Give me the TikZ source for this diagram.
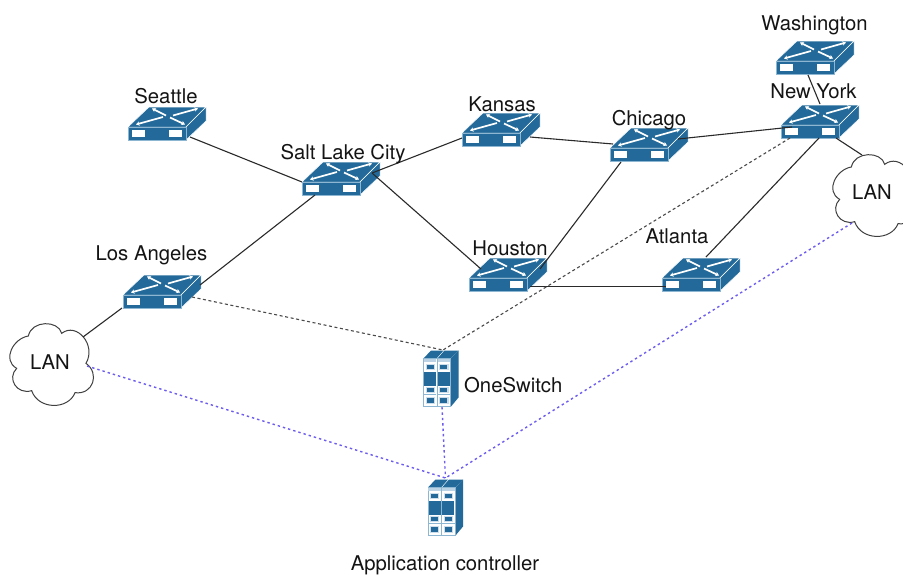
\documentclass[tikz,border=0pt]{standalone}
\usepackage{fontspec}
\setmainfont{TeX Gyre Heros}
\usetikzlibrary{arrows.meta}
\definecolor{iconblue}{HTML}{236A9A}
\definecolor{iconpale}{HTML}{8DB6D2}
\definecolor{linkdark}{HTML}{2A2A2A}
\definecolor{ctrlblue}{HTML}{6C5CF0}
\tikzset{
  x=1pt,y=-1pt,
  every node/.style={font=\fontsize{20.3}{24}\selectfont,text=black!92,inner sep=0pt},
  swbox/.style={minimum width=78pt,minimum height=33pt},
  srvbox/.style={minimum width=35pt,minimum height=56pt},
  cloudbox/.style={minimum width=83pt,minimum height=82pt},
  link/.style={draw=linkdark,line width=1.1pt},
  ctrl/.style={draw=linkdark!85,line width=1.1pt,dash pattern=on 3pt off 2.6pt},
  appl/.style={draw=ctrlblue,line width=1.4pt,dash pattern=on 2.4pt off 3pt},
  pics/switchicon/.style={code={
    \begin{scope}[shift={(-39,-16.5)}]
      \fill[iconblue,draw=white,line width=.5pt,line join=round] (0,20) -- (21,0) -- (78,0) -- (58,20) -- cycle;
      \fill[iconblue,draw=white,line width=.5pt,line join=round] (58,20) -- (78,0) -- (78,14) -- (58,33) -- cycle;
      \fill[iconblue,draw=iconpale,line width=.6pt] (0,20) rectangle (58,33);
      \fill[white] (3.5,23) rectangle (16.5,29.5);
      \fill[white] (40.5,23) rectangle (53.5,29.5);
      \begin{scope}[white,line width=1.7pt,arrows={-{Stealth[length=3.6pt,width=4.4pt]}}]
        \draw (38,8.5) -- (24,1.5);
        \draw (45,8.5) -- (70,1.5);
        \draw (35,10) -- (8,17.5);
        \draw (42,10.5) -- (57,17.5);
      \end{scope}
    \end{scope}
  }},
  pics/servericon/.style={code={
    \begin{scope}[shift={(-17.5,-28)}]
      \fill[iconblue] (0,8) -- (7.5,0) -- (20,0) -- (13,8) -- cycle;
      \fill[iconblue] (14,8) -- (21,0) -- (35,0) -- (27,8) -- cycle;
      \fill[iconblue] (27.5,8) -- (35,0) -- (35,47) -- (27.5,56) -- cycle;
      \foreach \cx in {0,13.7}{
        \begin{scope}[shift={(\cx,8)}]
          \fill[white] (0,0) rectangle (13.3,48);
          \draw[iconpale,line width=.5pt] (0,0) rectangle (13.3,48);
          \fill[iconpale!60] (.4,.4) rectangle (12.9,3);
          \fill[iconpale!45] (2,5) rectangle (11.3,11);
          \fill[iconblue] (3.2,6) rectangle (10.1,10);
          \fill[iconblue] (.6,13.5) rectangle (12.7,27);
          \fill[iconpale!45] (2,28.5) rectangle (11.3,34);
          \fill[iconblue] (3.2,29) rectangle (10.1,33.5);
          \draw[iconpale,line width=.8pt] (.4,36) -- (12.9,36);
          \fill[iconpale!45] (2,38.5) rectangle (11.3,45);
          \fill[iconblue] (3.2,39.5) rectangle (10.1,44);
        \end{scope}
      }
    \end{scope}
  }},
  pics/cloudicon/.style={code={
    \begin{scope}[x=.3333pt,y=-.3333pt,shift={(-150,-132)}]
      \draw[fill=white,draw=black!75,line width=1pt]
        (85,48) .. controls (40,55) and (5,120) .. (50,145)
        .. controls (20,175) and (50,225) .. (95,212)
        .. controls (115,270) and (205,270) .. (225,218)
        .. controls (280,225) and (300,160) .. (258,130)
        .. controls (290,75) and (230,5) .. (185,40)
        .. controls (175,0) and (95,0) .. (85,48) -- cycle;
    \end{scope}
  }},
}
\begin{document}
\begin{tikzpicture}
\useasboundingbox (0,0) rectangle (903,574);
\clip (0,0) rectangle (903,574);
\fill[white] (0,0) rectangle (903,574);
% device nodes
\node[swbox] (seattle) at (167,123.5) {};
\node[swbox] (slc) at (341,178.5) {};
\node[swbox] (kansas) at (501,129.5) {};
\node[swbox] (chicago) at (649,144.5) {};
\node[swbox] (washington) at (815,57.5) {};
\node[swbox] (newyork) at (820,121.5) {};
\node[swbox] (losangeles) at (162,291.5) {};
\node[swbox] (houston) at (508,274.5) {};
\node[swbox] (atlanta) at (701,274.5) {};
\node[srvbox] (oneswitch) at (441,378.5) {};
\node[srvbox] (appctrl) at (445.5,507.5) {};
\node[cloudbox] (lanleft) at (50,364) {};
\node[cloudbox] (lanright) at (873,195) {};
% icons
\foreach \n in {seattle,slc,kansas,chicago,washington,newyork,losangeles,houston,atlanta}{
  \pic at (\n.center) {switchicon};
}
\pic at (oneswitch.center) {servericon};
\pic at (appctrl.center) {servericon};
\pic at (lanleft.center) {cloudicon};
\pic at (lanright.center) {cloudicon};
% links
\draw[link] ([shift={(23,13.5)}]seattle.center) -- ([shift={(-39,3.5)}]slc.center);
\draw[link] ([shift={(31,-5.5)}]slc.center) -- ([shift={(-39,8.5)}]kansas.center);
\draw[link] ([shift={(31,-5.5)}]slc.center) -- ([shift={(-27,-5.5)}]houston.center);
\draw[link] ([shift={(-26,16.5)}]slc.center) -- ([shift={(38,-6.5)}]losangeles.center);
\draw[link] ([shift={(29,7.5)}]kansas.center) -- ([shift={(-36,-.5)}]chicago.center);
\draw[link] ([shift={(29,-5.5)}]chicago.center) -- ([shift={(-28,5.5)}]newyork.center);
\draw[link] ([shift={(-28,17.5)}]chicago.center) -- ([shift={(32,-5.5)}]houston.center);
\draw[link] ([shift={(22,11.7)}]houston.center) -- ([shift={(-35,11.7)}]atlanta.center);
\draw[link] ([shift={(5,-17.5)}]atlanta.center) -- ([shift={(-1,16.5)}]newyork.center);
\draw[link] ([shift={(-7,17.5)}]washington.center) -- ([shift={(0,-17.5)}]newyork.center);
\draw[link] ([shift={(16,16.5)}]newyork.center) -- ([shift={(-11,-40)}]lanright.center);
\draw[link] ([shift={(-40,16.5)}]losangeles.center) -- ([shift={(33,-27)}]lanleft.center);
% control links
\draw[ctrl] ([shift={(30,5.5)}]losangeles.center) -- ([shift={(2,-28.5)}]oneswitch.center);
\draw[ctrl] ([shift={(-30,16.5)}]newyork.center) -- ([shift={(2,-28.5)}]oneswitch.center);
% controller links
\draw[appl] ([shift={(37,2)}]lanleft.center) -- ([shift={(0,-29.5)}]appctrl.center);
\draw[appl] ([shift={(-21,28)}]lanright.center) -- ([shift={(0,-29.5)}]appctrl.center);
\draw[appl] ([shift={(1,28.5)}]oneswitch.center) -- ([shift={(0,-29.5)}]appctrl.center);
% labels
\node (tseattle) at (166,96) {Seattle};
\node (tslc) at (343,154) {Salt Lake City};
\node (tkansas) at (502,104) {Kansas};
\node (tchicago) at (649,120) {Chicago};
\node (twashington) at (814.5,25) {Washington};
\node (tnewyork) at (813.5,91) {New York};
\node (tlosangeles) at (151.5,255) {Los Angeles};
\node (thouston) at (510,248) {Houston};
\node (tatlanta) at (677,236) {Atlanta};
\node[anchor=west] (toneswitch) at (464,385) {OneSwitch};
\node (tapp) at (445,565) {Application controller};
\node (tlanleft) at (50,362) {LAN};
\node (tlanright) at (872,192) {LAN};
\end{tikzpicture}
\end{document}
